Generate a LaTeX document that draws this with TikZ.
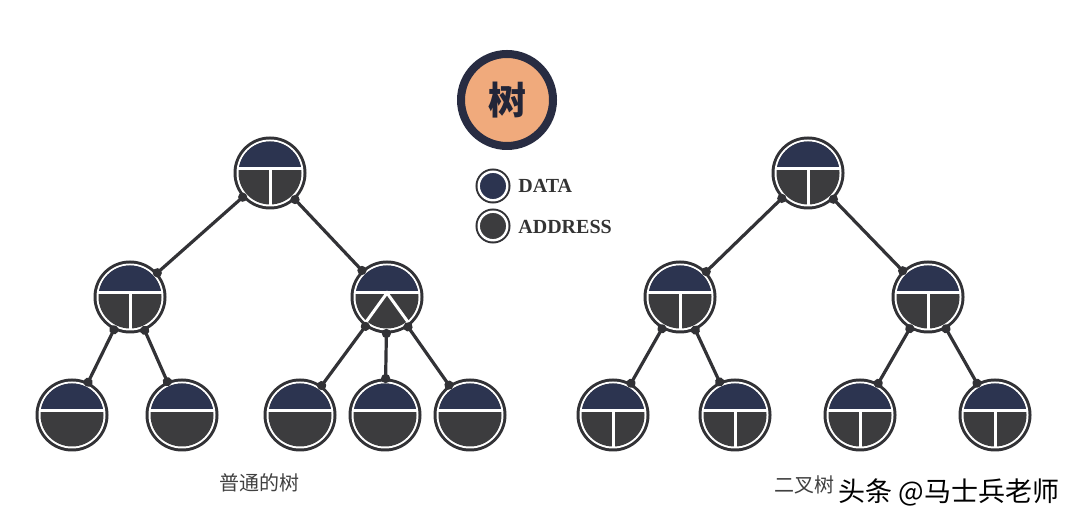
\documentclass[tikz,border=0pt]{standalone}
\usepackage{fontspec}
\setmainfont{Liberation Serif}
\newfontfamily\cjk{Noto Sans CJK SC}
\usetikzlibrary{arrows.meta}
\definecolor{datac}{RGB}{44,52,80}
\definecolor{addrc}{RGB}{60,60,62}
\definecolor{ringc}{RGB}{50,50,54}
\definecolor{titlec}{RGB}{240,170,124}
\definecolor{titlering}{RGB}{40,44,66}
\tikzset{
tcirc/.style={circle,minimum size=36.5pt,inner sep=0pt,outer sep=0pt},
split/.style={white,line width=1.5pt},
link/.style={ringc,line width=1.6pt,{Circle[length=4.5pt]}-{Circle[length=4.5pt]},%
shorten <=-2.25pt,shorten >=-2.25pt},
legdot/.style={circle,minimum size=14.3pt,inner sep=0pt,draw=white,line width=1.2pt,%
preaction={draw=ringc,line width=3.2pt}},
legtxt/.style={anchor=west,inner sep=0pt,text=black!80,font=\bfseries\fontsize{10pt}{12pt}\selectfont},
lbl/.style={text=black!75,font=\cjk\fontsize{10pt}{12pt}\selectfont}
}
% tree node: name, centre, extra white lines
\newcommand\tnode[3]{%
\begin{scope}[shift={#2}]
\path[fill=ringc](0,0)circle(36.5);
\path[fill=white](0,0)circle(33.5);
\path[fill=addrc](0,0)circle(31.5);
\begin{scope}
\path[clip](-37,4)rectangle(37,37);
\path[fill=datac](0,0)circle(31.5);
\end{scope}
\path[draw,split](-32.5,4)--(32.5,4);
#3
\end{scope}
\node[tcirc](#1)at#2{};}
\newcommand\tbar{\path[draw,split](0,4)--(0,-32.5);}
\newcommand\vbar{\path[draw,split](230:32.5)--(0,4)--(310:32.5);}
\begin{document}
\begin{tikzpicture}[x=0.5pt,y=0.5pt]
\useasboundingbox(0,0)rectangle(1080,-522);
\node[circle,minimum size=46pt,fill=titlec,draw=titlering,line width=4pt,%
text=titlering!85!black,font=\cjk\bfseries\fontsize{19pt}{20pt}\selectfont](title)at(507,-100){树};
\node[legdot,fill=datac](kdata)at(493,-186){};
\node[legdot,fill=addrc](kaddr)at(493,-226){};
\node[legtxt](tdata)at(518,-186){DATA};
\node[legtxt](taddr)at(518,-227){ADDRESS};
% ordinary tree
\tnode{r1}{(270,-173)}{\tbar}
\tnode{a1}{(130,-297)}{\tbar}
\tnode{b1}{(387,-297)}{\vbar}
\tnode{c1}{(72,-415)}{}
\tnode{c2}{(182,-415)}{}
\tnode{c3}{(300,-415)}{}
\tnode{c4}{(385,-415)}{}
\tnode{c5}{(470,-415)}{}
\draw[link](r1)--(a1);
\draw[link](r1)--(b1);
\draw[link](a1)--(c1);
\draw[link](a1)--(c2);
\draw[link](b1)--(c3);
\draw[link](b1)--(c4);
\draw[link](b1)--(c5);
% binary tree
\tnode{r2}{(808,-173)}{\tbar}
\tnode{a2}{(680,-297)}{\tbar}
\tnode{b2}{(928,-297)}{\tbar}
\tnode{c6}{(613,-415)}{\tbar}
\tnode{c7}{(735,-415)}{\tbar}
\tnode{c8}{(860,-415)}{\tbar}
\tnode{c9}{(995,-415)}{\tbar}
\draw[link](r2)--(a2);
\draw[link](r2)--(b2);
\draw[link](a2)--(c6);
\draw[link](a2)--(c7);
\draw[link](b2)--(c8);
\draw[link](b2)--(c9);
\node[lbl](lleft)at(259,-483){普通的树};
\node[lbl](lright)at(804,-485){二叉树};
\node[anchor=west,inner sep=0pt,font=\cjk\fontsize{13.5pt}{15pt}\selectfont](mark)at(838,-492){头条 @马士兵老师};
\end{tikzpicture}
\end{document}
